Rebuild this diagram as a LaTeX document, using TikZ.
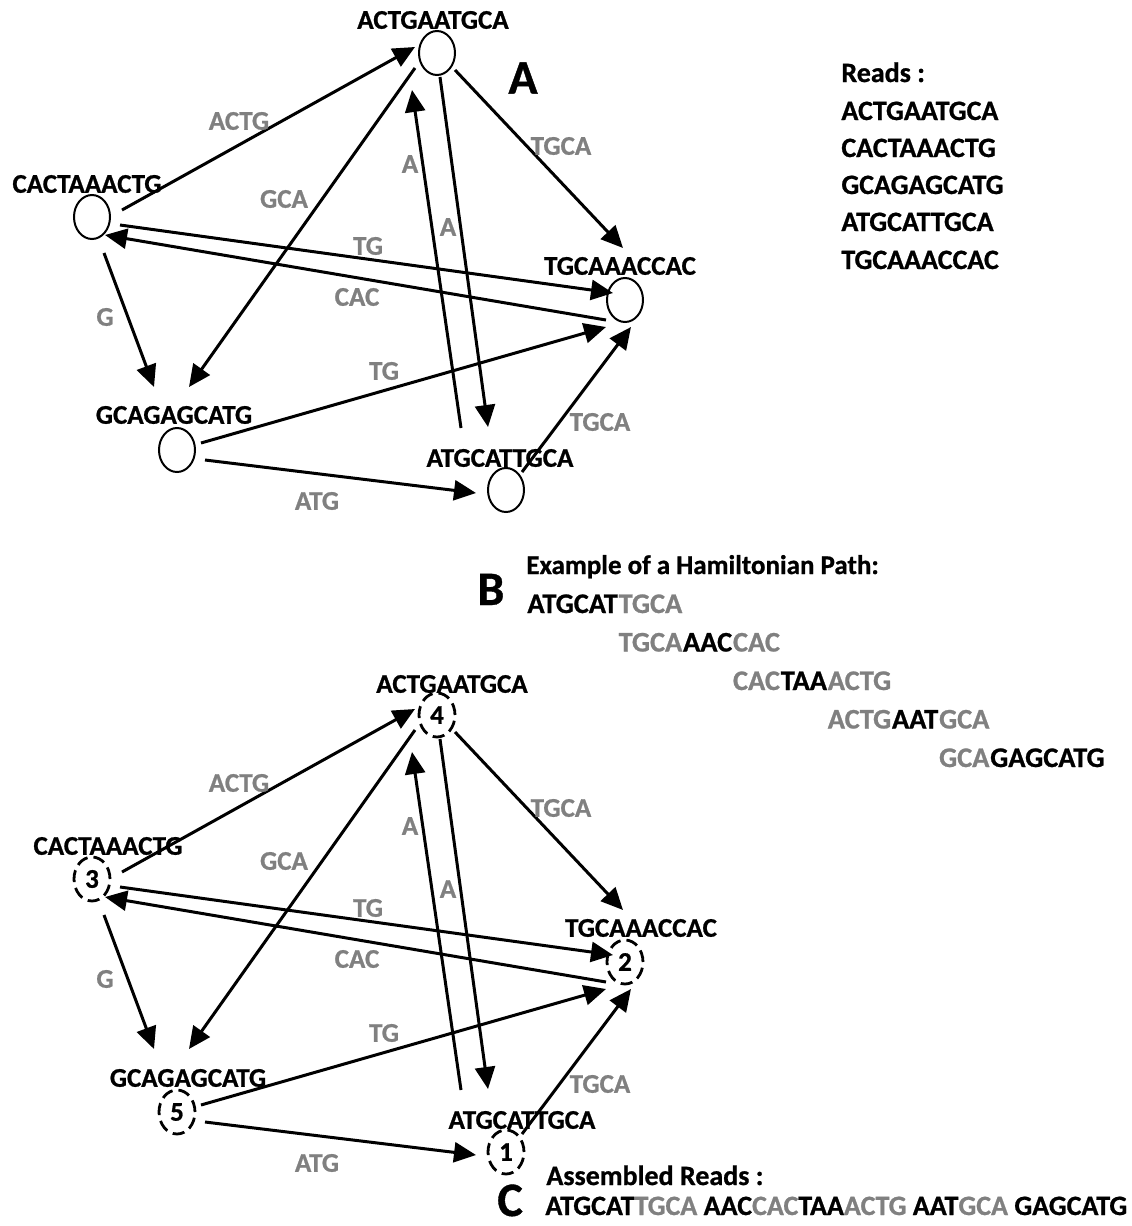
\documentclass[tikz,border=0pt]{standalone}
\usepackage{fontspec}
\setmainfont[BoldFeatures={FakeBold=0.8}]{Carlito}
\usetikzlibrary{arrows.meta,shapes.geometric,calc}
\definecolor{lbgray}{RGB}{128,128,128}
\newcommand\hamedges[2]{%
  \draw[arr] ($(#1L)+(30,-7)$) -- ($(#1T)+(-22,-6)$);
  \draw[arr] ($(#1T)+(-22,15)$) -- ($(#1G)+(12,-63)$);
  \draw[arr] ($(#1T)+(18,17)$) -- ($(#1R)+(-2,-52)$);
  \draw[arr] ($(#1L)+(28,8)$) -- ($(#1R)+(-12,-7)$);
  \draw[arr] ($(#1R)+(-19,20)$) -- ($(#1L)+(13,18)$);
  \draw[arr] ($(#1L)+(12,36)$) -- ($(#1G)+(-23,-63)$);
  \draw[arr] ($(#1G)+(24,-7)$) -- ($(#1R)+(-19,27)$);
  \draw[arr] ($(#1G)+(28,10)$) -- ($(#1B)+(-30,3)$);
  \draw[arr] ($(#1B)+(16,-18)$) -- ($(#1R)+(6,27)$);
  \draw[arr] ($(#1B)+(-45,-62)$) -- ($(#1T)+(-25,37)$);
  \draw[arr] ($(#1T)+(3,24)$) -- ($(#1B)+(-18,-63)$);
  \node[etxt] (#1e1) at (239,121+#2) {ACTG};
  \node[etxt] (#1e2) at (284,199+#2) {GCA};
  \node[etxt] (#1e3) at (561,146+#2) {TGCA};
  \node[etxt] (#1e4) at (410,164+#2) {A};
  \node[etxt] (#1e5) at (448,227+#2) {A};
  \node[etxt] (#1e6) at (368,246+#2) {TG};
  \node[etxt] (#1e7) at (357,297+#2) {CAC};
  \node[etxt] (#1e8) at (105,317+#2) {G};
  \node[etxt] (#1e9) at (384,371+#2) {TG};
  \node[etxt] (#1e10) at (600,422+#2) {TGCA};
  \node[etxt] (#1e11) at (317,501+#2) {ATG};
}
\begin{document}
\begin{tikzpicture}[x=0.5pt,y=-0.5pt,
  txt/.style={font=\bfseries\fontsize{13.5}{16}\selectfont, inner sep=0pt},
  etxt/.style={txt, text=lbgray},
  ptxt/.style={font=\bfseries\fontsize{14.2}{17}\selectfont, inner sep=0pt},
  eptxt/.style={ptxt, text=lbgray},
  rtxt/.style={font=\bfseries\fontsize{14}{17}\selectfont, inner sep=0pt},
  big/.style={font=\bfseries\fontsize{24}{28}\selectfont, inner sep=0pt},
  vtx/.style={ellipse, draw, line width=1pt, minimum width=18pt, minimum height=22pt, inner sep=0pt},
  dvtx/.style={vtx, line width=1.4pt, dash pattern=on 6pt off 3pt, font=\bfseries\fontsize{13.5}{16}\selectfont},
  arr/.style={line width=1.5pt, -{Triangle[length=11pt,width=10pt]}}
]
\useasboundingbox (0,0) rectangle (1131,1226);

% ---------- graph A ----------
\node[vtx] (aT) at (437,53) {};
\node[vtx] (aL) at (92,217) {};
\node[vtx] (aR) at (625,300) {};
\node[vtx] (aG) at (177,450) {};
\node[vtx] (aB) at (506,490) {};
\node[txt] (atT) at (433,20) {ACTGAATGCA};
\node[txt] (atL) at (87,184) {CACTAAACTG};
\node[txt] (atR) at (620,266) {TGCAAACCAC};
\node[txt] (atG) at (174,415) {GCAGAGCATG};
\node[txt] (atB) at (500,458) {ATGCATTGCA};
\hamedges{a}{0}
\node[big] (lblA) at (523,78) {A};

% ---------- reads ----------
\node[rtxt, anchor=base west] (rh) at (841,82) {Reads :};
\node[rtxt, anchor=base west] (r1) at (841,120) {ACTGAATGCA};
\node[rtxt, anchor=base west] (r2) at (841,157) {CACTAAACTG};
\node[rtxt, anchor=base west] (r3) at (841,194) {GCAGAGCATG};
\node[rtxt, anchor=base west] (r4) at (841,231) {ATGCATTGCA};
\node[rtxt, anchor=base west] (r5) at (841,269) {TGCAAACCAC};

% ---------- B ----------
\node[big, anchor=base west] (lblB) at (477,605) {B};
\node[txt, anchor=base west] (bh) at (526,574) {Example of a Hamiltonian Path:};
\node[ptxt, anchor=base west] (p1a) at (527,613) {ATGCAT};
\node[eptxt, anchor=base west] (p1b) at (p1a.base east) {TGCA};
\node[eptxt, anchor=base west] (p2a) at ($(p1b.base west)+(0,38.5)$) {TGCA};
\node[ptxt, anchor=base west] (p2b) at (p2a.base east) {AAC};
\node[eptxt, anchor=base west] (p2c) at (p2b.base east) {CAC};
\node[eptxt, anchor=base west] (p3a) at ($(p2c.base west)+(0,38.5)$) {CAC};
\node[ptxt, anchor=base west] (p3b) at (p3a.base east) {TAA};
\node[eptxt, anchor=base west] (p3c) at (p3b.base east) {ACTG};
\node[eptxt, anchor=base west] (p4a) at ($(p3c.base west)+(0,38.5)$) {ACTG};
\node[ptxt, anchor=base west] (p4b) at (p4a.base east) {AAT};
\node[eptxt, anchor=base west] (p4c) at (p4b.base east) {GCA};
\node[eptxt, anchor=base west] (p5a) at ($(p4c.base west)+(0,38.5)$) {GCA};
\node[ptxt, anchor=base west] (p5b) at (p5a.base east) {GAGCATG};

% ---------- graph C ----------
\node[dvtx] (bT) at (437,715) {4};
\node[dvtx] (bL) at (92,879) {3};
\node[dvtx] (bR) at (625,962) {2};
\node[dvtx] (bG) at (177,1112) {5};
\node[dvtx] (bB) at (506,1152) {1};
\node[txt] (btT) at (452,684) {ACTGAATGCA};
\node[txt] (btL) at (108,846) {CACTAAACTG};
\node[txt] (btR) at (641,928) {TGCAAACCAC};
\node[txt] (btG) at (188,1078) {GCAGAGCATG};
\node[txt] (btB) at (522,1120) {ATGCATTGCA};
\hamedges{b}{662}

% ---------- C ----------
\node[big, anchor=base west] (lblC) at (497,1216) {C};
\node[rtxt, anchor=base west] (ch) at (546,1185) {Assembled Reads :};
\node[rtxt, anchor=base west] (cl) at (545,1215) {ATGCAT\textcolor{lbgray}{TGCA} AAC\textcolor{lbgray}{CAC}TAA\textcolor{lbgray}{ACTG} AAT\textcolor{lbgray}{GCA} GAGCATG};
\end{tikzpicture}
\end{document}
